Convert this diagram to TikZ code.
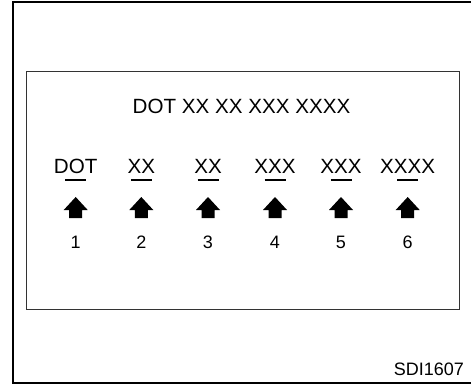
\documentclass[tikz,border=0pt]{standalone}
\usepackage{fontspec}
\setmainfont{Liberation Sans}
\usetikzlibrary{calc}
\tikzset{
	txt/.style={inner sep=0pt,font=\fontsize{20.6}{24}\selectfont},
	num/.style={inner sep=0pt,font=\fontsize{18}{21}\selectfont},
}
\begin{document}
\begin{tikzpicture}[x=1pt,y=-1pt]
	\useasboundingbox (0,0) rectangle (471,385);
	\draw[line width=2pt] (475,2.5) -- (13,2.5) -- (13,382.5) -- (475,382.5);
	\draw[line width=1pt,black!80] (26,71.5) rectangle (459,309);
	\node[txt] (title) at (241.5,106) {DOT XX XX XXX XXXX};
	\foreach \x/\t/\n in {75.7/DOT/1,141.3/XX/2,208/XX/3,275/XXX/4,341/XXX/5,407.7/XXXX/6}{
		\node[txt] (lbl\n) at (\x,166) {\t};
		\draw[line width=1.5pt] ($(\x,180)-(10.5,0)$) -- ($(\x,180)+(10.5,0)$);
		\coordinate (A\n) at (\x,197);
		\fill (A\n) -- ++(12,13) -- ++(-5.5,0) -- ++(0,8) -- ++(-13,0) -- ++(0,-8) -- ++(-5.5,0) -- cycle;
		\node[num] (num\n) at (\x,242) {\n};
	}
	\node[num,anchor=east] (code) at (464,369) {SDI1607};
\end{tikzpicture}
\end{document}
